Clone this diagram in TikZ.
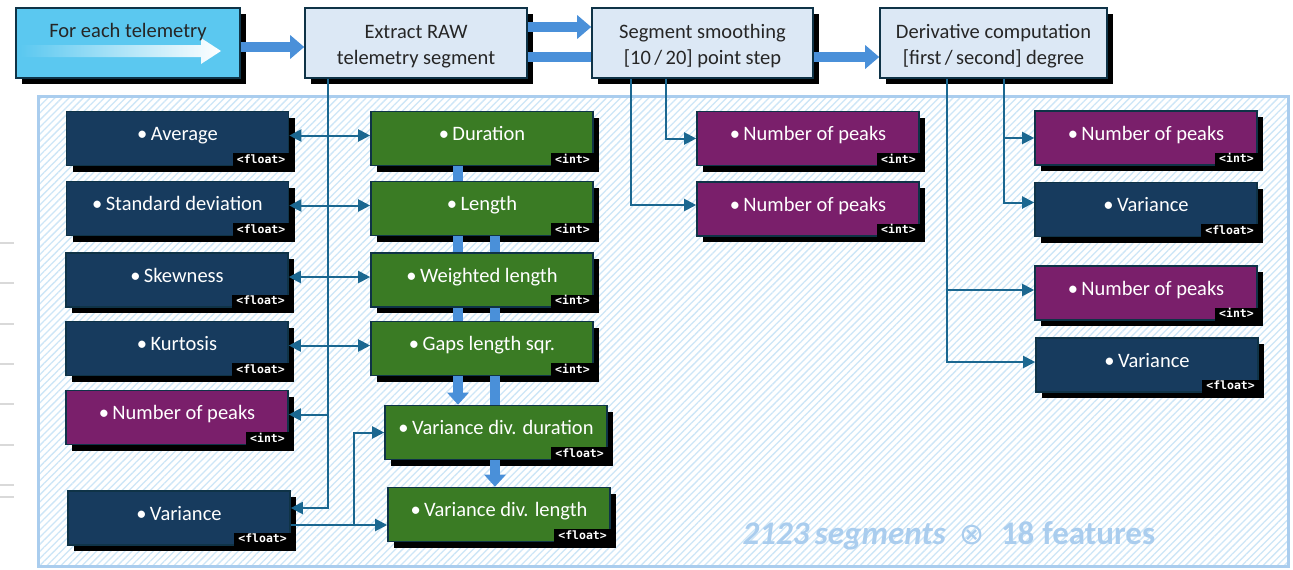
\documentclass[tikz,border=0pt]{standalone}
\usepackage{fontspec}
\setmainfont{Carlito}
\setmonofont{DejaVu Sans Mono}
\newfontfamily\symfont{DejaVu Sans}
\usetikzlibrary{arrows.meta,shadows,patterns.meta,calc}
\definecolor{cyanbox}{HTML}{5BC8F0}
\definecolor{lightbox}{HTML}{DCE8F5}
\definecolor{navybox}{HTML}{173B5E}
\definecolor{greenbox}{HTML}{3A7B24}
\definecolor{purplebox}{HTML}{7A1F6B}
\definecolor{edgec}{HTML}{0F3347}
\definecolor{connc}{HTML}{1B6790}
\definecolor{barblue}{HTML}{4A90D9}
\definecolor{panelc}{HTML}{AACDEE}
\definecolor{hatchc}{HTML}{CDE6F7}
\tikzset{
  shad/.style={drop shadow={shadow xshift=6pt, shadow yshift=-6pt, fill=black, opacity=1}},
  topbox/.style={draw=edgec, line width=1.6pt, minimum height=70pt, inner sep=0pt,
    align=center, font=\fontsize{20.5}{26}\selectfont, text=black!85, shad},
  featbox/.style={draw=edgec, line width=1.6pt, minimum width=222pt, minimum height=54pt,
    inner sep=0pt, text=white, font=\fontsize{20.5}{22}\selectfont, text height=13pt, text depth=9pt, shad},
  tagbox/.style={fill=black, text=white, font=\ttfamily\bfseries\fontsize{11.5}{12}\selectfont,
    inner xsep=4pt, inner ysep=1.5pt, text height=8.5pt, text depth=1.5pt, outer sep=0pt, anchor=south east},
  connline/.style={draw=connc, line width=2pt},
  ctip/.style={-{Triangle[length=12pt,width=12pt]}},
  dtip/.style={{Triangle[length=12pt,width=12pt]}-{Triangle[length=12pt,width=12pt]}},
  thickbar/.style={draw=barblue, line width=10pt},
  bartip/.style={-{Triangle[length=14pt,width=23pt]}},
}
\newcommand\featnode[6]{%
  \node[featbox, fill=#4] (#1) at (#2,#3) {\textbullet\,#5};
  \node[tagbox] (#1t) at (#1.south east) {<#6>};
}
\newcommand\topstrut{\rule{0pt}{20pt}}
\begin{document}
\begin{tikzpicture}[x=1pt,y=-1pt]
\useasboundingbox (0,0) rectangle (1293,570);
% stray gray ticks at the left edge
\foreach \yy in {243,283,324,364,404,445,485,497}
  \draw[black!15, line width=1.5pt] (0,\yy) -- (14,\yy);
% panel
\fill[white] (38,96) rectangle (1288,566);
\fill[pattern={Lines[angle=45,distance=5pt,line width=1.3pt]}, pattern color=hatchc] (38,96) rectangle (1288,566);
\draw[panelc, line width=3pt] (38,96) rectangle (1288,566);
% top boxes
\node[topbox, fill=cyanbox, minimum width=224pt] (fe) at (128,43) {\phantom{x}};
\shade[left color=cyanbox, right color=white]
  (20,45) -- (201,45) -- (201,38) -- (221,51) -- (201,64) -- (201,57) -- (20,57) -- cycle;
\node[font=\fontsize{20.5}{22}\selectfont, text=black!85] (fetext) at (128,32) {For each telemetry};
\node[topbox, fill=lightbox, minimum width=222pt] (ex) at (416,43) {\topstrut Extract RAW\\telemetry segment};
\node[topbox, fill=lightbox, minimum width=221pt] (sg) at (702.5,43) {\topstrut Segment smoothing\\{[}10\,/\,20{]} point step};
\node[topbox, fill=lightbox, minimum width=227pt] (dv) at (993.5,43) {\topstrut Derivative computation\\{[}first\,/\,second{]} degree};
% left column
\featnode{avg}{177.5}{138.5}{navybox}{Average}{float}
\featnode{std}{177.5}{208.5}{navybox}{Standard deviation}{float}
\featnode{skw}{177}{280}{navybox}{Skewness}{float}
\featnode{kur}{177}{348.5}{navybox}{Kurtosis}{float}
\featnode{nopL}{177}{417.5}{purplebox}{Number of peaks}{int}
\featnode{varL}{179}{518}{navybox}{Variance}{float}
% middle column
\featnode{dur}{482}{138.5}{greenbox}{Duration}{int}
\featnode{len}{482}{208.5}{greenbox}{Length}{int}
\featnode{wl}{482}{280}{greenbox}{Weighted length}{int}
\featnode{gls}{482}{348.5}{greenbox}{Gaps length sqr.}{int}
\featnode{vdd}{496}{432.5}{greenbox}{Variance div. duration}{float}
\featnode{vdl}{499}{514.5}{greenbox}{Variance div. length}{float}
% smoothing column
\featnode{nopSa}{808}{138.5}{purplebox}{Number of peaks}{int}
\featnode{nopSb}{808}{209}{purplebox}{Number of peaks}{int}
% derivative column
\featnode{nopDa}{1146}{138}{purplebox}{Number of peaks}{int}
\featnode{varDa}{1146}{209.5}{navybox}{Variance}{float}
\featnode{nopDb}{1146}{293}{purplebox}{Number of peaks}{int}
\featnode{varDb}{1147}{365}{navybox}{Variance}{float}
% summary text
\node[text=panelc, anchor=base west, font=\fontsize{33}{36}\selectfont] (summary) at (739,544)
  {{\bfseries\itshape 2123\,segments}\hspace{14pt}{\symfont\fontsize{30}{32}\selectfont ⊗}\hspace{16pt}{\bfseries 18\hspace{8pt}features}};
% thick flow arrows
\draw[thickbar,bartip] ([yshift=-4pt]fe.east) -- ([yshift=-4pt]ex.west);
\draw[thickbar,bartip] ([yshift=16pt]ex.east) -- ([yshift=16pt]sg.west);
\draw[thickbar] ([yshift=-14pt]ex.east) -- ([yshift=-14pt]sg.west);
\draw[thickbar,bartip] ([yshift=-14pt]sg.east) -- ([yshift=-14pt]dv.west);
% thick bars in the middle column
\draw[thickbar] ([xshift=-24pt]dur.south) -- ([xshift=-24pt]len.north);
\draw[thickbar] ([xshift=-24pt]len.south) -- ([xshift=-24pt]wl.north);
\draw[thickbar] ([xshift=13pt]len.south) -- ([xshift=13pt]wl.north);
\draw[thickbar] ([xshift=-24pt]wl.south) -- ([xshift=-24pt]gls.north);
\draw[thickbar] ([xshift=13pt]wl.south) -- ([xshift=13pt]gls.north);
\draw[thickbar,-{Triangle[length=12pt,width=21pt]}] ([xshift=-24pt]gls.south) -- ([xshift=-38pt]vdd.north);
\draw[thickbar] ([xshift=13pt]gls.south) -- ([xshift=-1pt]vdd.north);
\draw[thickbar,-{Triangle[length=12pt,width=21pt]}] ([xshift=-1pt]vdd.south) -- ([xshift=-4pt]vdl.north);
% connectors from Extract
\draw[connline,ctip] ([xshift=-88pt]ex.south) |- ([yshift=10pt]varL.east);
\draw[connline,ctip] ([xshift=-88pt]ex.south) |- ([yshift=3pt]nopL.east);
\draw[connline,dtip] ([yshift=3pt]avg.east) -- ([yshift=3pt]dur.west);
\draw[connline,dtip] ([yshift=3pt]std.east) -- ([yshift=3pt]len.west);
\draw[connline,dtip] ([yshift=3pt]skw.east) -- ([yshift=3pt]wl.west);
\draw[connline,dtip] ([yshift=3pt]kur.east) -- ([yshift=3pt]gls.west);
\path ([yshift=-7pt]varL.east) coordinate (b1);
\path (b1) ++(63,0) coordinate (b2);
\draw[connline,ctip] (b1) -- (b1 -| vdl.west);
\draw[connline,ctip] (b2) |- (vdd.west);
% connectors from smoothing
\draw[connline,ctip] ([xshift=-36.5pt]sg.south) |- (nopSa.west);
\draw[connline,ctip] ([xshift=-71.5pt]sg.south) |- ([yshift=4pt]nopSb.west);
% connectors from derivative
\draw[connline,ctip] ([xshift=10.5pt]dv.south) |- (nopDa.west);
\draw[connline,ctip] ([xshift=10.5pt]dv.south) |- ([yshift=7pt]varDa.west);
\draw[connline,ctip] ([xshift=-46.5pt]dv.south) |- ([yshift=3pt]nopDb.west);
\draw[connline,ctip] ([xshift=-46.5pt]dv.south) |- ([yshift=3pt]varDb.west);
\end{tikzpicture}
\end{document}
